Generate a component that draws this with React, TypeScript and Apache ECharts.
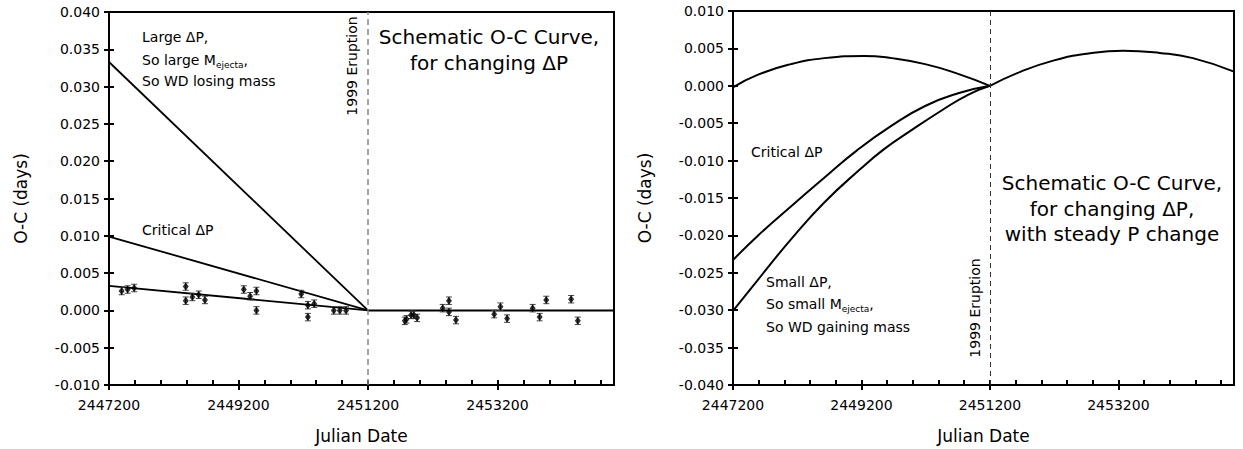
import React, { useEffect, useRef } from "react";
import * as echarts from "echarts";

const FONT = '"DejaVu Sans", Verdana, sans-serif';
const JD0 = 2447200;
const JD_MAX = 2455000;
const ERUPTION_JD = 2451200;

// ---------- Left panel: observed O-C with error bars ----------
const obsJD = [
  2447395, 2447488, 2447589, 2448385, 2448385, 2448488, 2448585, 2448682,
  2449282, 2449380, 2449477, 2449477, 2450169, 2450272, 2450369, 2450272,
  2450672, 2450765, 2450862,
  2451769, 2451795, 2451866, 2451908, 2451959, 2452354, 2452451, 2452451,
  2452559, 2453149, 2453246, 2453349, 2453743, 2453851, 2453954, 2454338,
  2454441,
];
const obsOC = [
  0.0026, 0.0028, 0.003, 0.0032, 0.0013, 0.0018, 0.0021, 0.0014,
  0.0028, 0.0019, 0.0026, 0.0, 0.0022, 0.0007, 0.0009, -0.0009,
  0.0, 0.0, 0.0,
  -0.0014, -0.0012, -0.0006, -0.0006, -0.001, 0.0003, 0.0013, -0.0002,
  -0.0013, -0.0005, 0.0005, -0.0011, 0.0003, -0.0009, 0.0014, 0.0015,
  -0.0014,
];
const obsErr = [
  0.0005, 0.0005, 0.0005, 0.0005, 0.0005, 0.0005, 0.0005, 0.0005,
  0.0005, 0.0005, 0.0005, 0.0005, 0.0005, 0.0005, 0.0005, 0.0005,
  0.0005, 0.0005, 0.0005,
  0.0005, 0.0005, 0.0005, 0.0005, 0.0005, 0.0005, 0.0005, 0.0005,
  0.0005, 0.0005, 0.0005, 0.0005, 0.0005, 0.0005, 0.0005, 0.0005,
  0.0005,
];

const largeFitJD = [2447200, 2451200];
const largeFitOC = [0.0333, 0];
const criticalFitJD = [2447200, 2451200];
const criticalFitOC = [0.0099, 0];
const smallFitJD = [2447200, 2451200];
const smallFitOC = [0.0033, 0];
const postFitJD = [2451200, 2455000];
const postFitOC = [0, 0];

// ---------- Right panel: schematic curves ----------
const upperJD = [2447200, 2447591, 2448106, 2448621, 2449238, 2449671, 2450191, 2450705, 2451200];
const upperOC = [-0.0002, 0.0015, 0.0029, 0.0037, 0.004, 0.0037, 0.0029, 0.0016, 0];
const afterJD = [2451200, 2451682, 2452198, 2452712, 2453279, 2453844, 2454360, 2455000];
const afterOC = [0, 0.0019, 0.0034, 0.0043, 0.0047, 0.0044, 0.0037, 0.0019];
const critJD = [2447200, 2447591, 2448106, 2448621, 2449135, 2449675, 2450191, 2450705, 2451200];
const critOC = [-0.0233, -0.02, -0.0161, -0.0123, -0.0086, -0.0053, -0.0027, -0.001, 0];
const smallJD = [2447200, 2447591, 2448106, 2448621, 2449187, 2449547, 2449933, 2450447, 2450859, 2451200];
const smallOC = [-0.0301, -0.0259, -0.0205, -0.0156, -0.0111, -0.0085, -0.0062, -0.0033, -0.0012, 0];

const LEFT_Y = { min: -0.01, max: 0.04 };
const RIGHT_Y = { min: -0.04, max: 0.01 };

const pts = (xs: number[], ys: number[]) => xs.map((x, i) => [x - JD0, ys[i]]);

function xAxesFor(gridIndex: number) {
  return [
    {
      type: "value",
      gridIndex,
      min: 0,
      max: JD_MAX - JD0,
      interval: 2000,
      position: "bottom",
      axisLine: { show: true, onZero: false, lineStyle: { color: "#000", width: 2 } },
      axisTick: { show: true, inside: false, length: 5, lineStyle: { color: "#000", width: 2 } },
      axisLabel: {
        formatter: (v: number) => String(Math.round(v + JD0)),
        showMaxLabel: false,
        fontSize: 14,
        color: "#000",
        fontFamily: FONT,
        margin: 13,
      },
      splitLine: { show: false },
      name: "Julian Date",
      nameLocation: "middle",
      nameGap: 42,
      nameTextStyle: { fontSize: 17, color: "#000", fontFamily: FONT },
    },
    {
      type: "value",
      gridIndex,
      min: 0,
      max: JD_MAX - JD0,
      interval: 400,
      position: "bottom",
      axisLine: { show: true, onZero: false, lineStyle: { color: "#000", width: 2 } },
      axisTick: { show: true, inside: true, length: 5, lineStyle: { color: "#000", width: 2 } },
      axisLabel: { show: false },
      splitLine: { show: false },
    },
  ];
}

function yAxesFor(gridIndex: number, r: { min: number; max: number }) {
  return [
    {
      type: "value",
      gridIndex,
      min: r.min,
      max: r.max,
      interval: 0.005,
      position: "left",
      axisLine: { show: true, onZero: false, lineStyle: { color: "#000", width: 2 } },
      axisTick: { show: true, inside: false, length: 5, lineStyle: { color: "#000", width: 2 } },
      axisLabel: {
        formatter: (v: number) => (Math.abs(v) < 1e-9 ? 0 : v).toFixed(3),
        fontSize: 14,
        color: "#000",
        fontFamily: FONT,
        margin: 9,
      },
      splitLine: { show: false },
      name: "O-C (days)",
      nameLocation: "middle",
      nameGap: 80,
      nameTextStyle: { fontSize: 17, color: "#000", fontFamily: FONT },
    },
    {
      type: "value",
      gridIndex,
      min: r.min,
      max: r.max,
      interval: 0.005,
      position: "left",
      axisLine: { show: true, onZero: false, lineStyle: { color: "#000", width: 2 } },
      axisTick: { show: true, inside: true, length: 5, lineStyle: { color: "#000", width: 2 } },
      axisLabel: { show: false },
      splitLine: { show: false },
    },
  ];
}

const lineSeries = (data: number[][], xi: number, yi: number, width: number, smooth: number | boolean, extra: any = {}) => ({
  type: "line",
  xAxisIndex: xi,
  yAxisIndex: yi,
  data,
  showSymbol: false,
  symbol: "none",
  smooth,
  lineStyle: { color: "#000", width },
  silent: true,
  z: 2,
  ...extra,
});

const dashedAt = (color: string, width: number, dash: number[]) => ({
  silent: true,
  symbol: "none",
  label: { show: false },
  lineStyle: { color, width, type: dash },
  data: [{ xAxis: ERUPTION_JD - JD0 }],
});

const txt = (x: number, y: number, text: string, size = 14, extra: any = {}) => ({
  type: "text",
  x,
  y,
  silent: true,
  style: {
    text,
    fill: "#000",
    fontSize: size,
    fontFamily: FONT,
    verticalAlign: "top",
    align: "left",
    ...extra,
  },
});

const subRich = {
  a: { fontSize: 14, fontFamily: FONT, fill: "#000", lineHeight: 14, verticalAlign: "top" },
  s: { fontSize: 9, fontFamily: FONT, fill: "#000", lineHeight: 12, padding: [7, 0, 0, 0], verticalAlign: "top" },
};

export default function App() {
  const ref = useRef<HTMLDivElement>(null);
  useEffect(() => {
    if (!ref.current) return;
    const chart = echarts.init(ref.current, undefined, { renderer: "svg" });
    const errData = obsJD.map((j, i) => [j - JD0, obsOC[i] - obsErr[i], obsOC[i] + obsErr[i]]);
    const option: any = {
      animation: false,
      backgroundColor: "#fff",
      grid: [
        { left: 109, top: 12, width: 505, height: 375, show: true, borderColor: "#000", borderWidth: 2, backgroundColor: "transparent" },
        { left: 733, top: 11, width: 501, height: 375, show: true, borderColor: "#000", borderWidth: 2, backgroundColor: "transparent" },
      ],
      xAxis: [...xAxesFor(0), ...xAxesFor(1)],
      yAxis: [...yAxesFor(0, LEFT_Y), ...yAxesFor(1, RIGHT_Y)],
      series: [
        lineSeries(pts(largeFitJD, largeFitOC), 0, 0, 1.8, false, { markLine: dashedAt("#888", 1.5, [6, 4]) }),
        lineSeries(pts(criticalFitJD, criticalFitOC), 0, 0, 1.8, false),
        lineSeries(pts(smallFitJD, smallFitOC), 0, 0, 1.8, false),
        lineSeries(pts(postFitJD, postFitOC), 0, 0, 2, false),
        {
          type: "custom",
          xAxisIndex: 0,
          yAxisIndex: 0,
          silent: true,
          data: errData,
          encode: { x: 0, y: [1, 2] },
          z: 3,
          renderItem: (_p: any, api: any) => {
            const x = api.value(0);
            const lo = api.coord([x, api.value(1)]);
            const hi = api.coord([x, api.value(2)]);
            const w = 3;
            return {
              type: "group",
              children: [
                { type: "line", shape: { x1: lo[0], y1: lo[1], x2: hi[0], y2: hi[1] }, style: { stroke: "#000", lineWidth: 1 } },
                { type: "line", shape: { x1: lo[0] - w, y1: lo[1], x2: lo[0] + w, y2: lo[1] }, style: { stroke: "#444", lineWidth: 1 } },
                { type: "line", shape: { x1: hi[0] - w, y1: hi[1], x2: hi[0] + w, y2: hi[1] }, style: { stroke: "#444", lineWidth: 1 } },
              ],
            };
          },
        },
        {
          type: "scatter",
          xAxisIndex: 0,
          yAxisIndex: 0,
          data: pts(obsJD, obsOC),
          symbol: "diamond",
          symbolSize: [6, 8],
          itemStyle: { color: "#000" },
          silent: true,
          z: 4,
        },
        lineSeries(pts(upperJD, upperOC), 2, 2, 2, 0.5, { markLine: dashedAt("#333", 1, [5, 4]) }),
        lineSeries(pts(afterJD, afterOC), 2, 2, 2, 0.5),
        lineSeries(pts(critJD, critOC), 2, 2, 2, 0.5),
        lineSeries(pts(smallJD, smallOC), 2, 2, 2, 0.5),
      ],
      graphic: [
        // left panel annotations
        txt(142, 30, "Large \u0394P,"),
        { type: "text", x: 142, y: 53, silent: true, style: { text: "{a|So large M}{s|ejecta}{a|,}", rich: subRich, verticalAlign: "top" } },
        txt(142, 74, "So WD losing mass"),
        txt(142, 223, "Critical \u0394P"),
        txt(489, 37, "Schematic O-C Curve,", 20, { align: "center", verticalAlign: "middle" }),
        txt(489, 63, "for changing \u0394P", 20, { align: "center", verticalAlign: "middle" }),
        { ...txt(352, 66, "1999 Eruption", 14, { align: "center", verticalAlign: "middle" }), rotation: Math.PI / 2 },
        // right panel annotations
        txt(751, 145, "Critical \u0394P"),
        txt(766, 275, "Small \u0394P,"),
        { type: "text", x: 766, y: 297, silent: true, style: { text: "{a|So small M}{s|ejecta}{a|,}", rich: subRich, verticalAlign: "top" } },
        txt(766, 320, "So WD gaining mass"),
        txt(1112, 183, "Schematic O-C Curve,", 20, { align: "center", verticalAlign: "middle" }),
        txt(1112, 209, "for changing \u0394P,", 20, { align: "center", verticalAlign: "middle" }),
        txt(1112, 234, "with steady P change", 20, { align: "center", verticalAlign: "middle" }),
        { ...txt(975, 308, "1999 Eruption", 14, { align: "center", verticalAlign: "middle" }), rotation: Math.PI / 2 },
      ],
    };
    chart.setOption(option);
    return () => chart.dispose();
  }, []);
  return <div ref={ref} style={{ position: "absolute", left: 0, top: 0, width: 1243, height: 449 }} />;
}
